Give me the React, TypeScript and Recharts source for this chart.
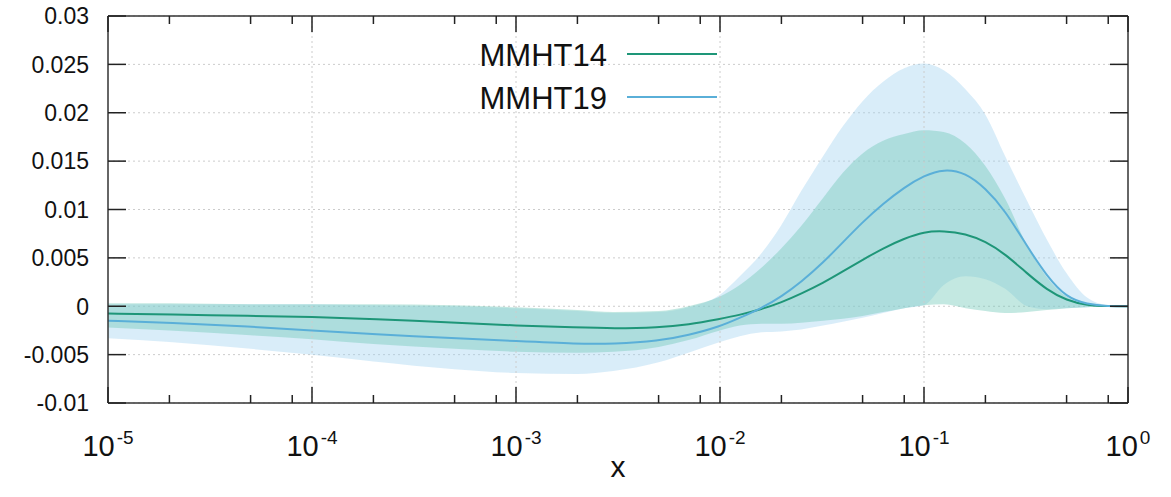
import {
  ComposedChart, Area, Line, XAxis, YAxis, CartesianGrid, ReferenceLine, Legend,
} from 'recharts'

const FONT = '"Liberation Sans", Arial, Helvetica, sans-serif'
const GREEN = '#1e9678'
const BLUE = '#5aafd8'

// x values (log scale)
const xs = [
  1e-5, 2e-5, 5e-5, 1e-4, 2e-4, 5e-4, 1e-3, 2e-3, 3e-3, 5e-3, 7e-3,
  0.01, 0.0125, 0.016, 0.02, 0.025, 0.032, 0.04, 0.05, 0.063, 0.08,
  0.1, 0.125, 0.16, 0.2, 0.25, 0.32, 0.4, 0.5, 0.63, 0.8, 1,
]

const mmht14 = [
  -0.00076, -0.00085, -0.001, -0.0011, -0.0013, -0.0017, -0.002, -0.0022, -0.0023, -0.0022, -0.0019,
  -0.0013, -0.0009, -0.0003, 0.0004, 0.0013, 0.0024, 0.0036, 0.0048, 0.006, 0.007,
  0.0077, 0.0078, 0.0075, 0.0067, 0.0054, 0.0034, 0.0017, 0.0006, 0.0001, 0, 0,
]
const mmht14Hi = [
  0.0003, 0.0003, 0.0002, 0.0002, 0.0002, 0.0001, -0.0001, -0.0004, -0.0006, -0.0005, 0.0,
  0.001, 0.0022, 0.004, 0.006, 0.0083, 0.0112, 0.0138, 0.0158, 0.0171, 0.0178,
  0.0182, 0.018, 0.0168, 0.0145, 0.0111, 0.0063, 0.003, 0.001, 0.0002, 0, 0,
]
const mmht14Lo = [
  -0.0022, -0.0025, -0.003, -0.0034, -0.0039, -0.0044, -0.0047, -0.0048, -0.0047, -0.0042, -0.0035,
  -0.0025, -0.002, -0.0018, -0.0018, -0.0017, -0.0015, -0.0013, -0.001, -0.0006, -0.0002,
  0.0001, 0.0002, -0.0002, -0.0005, -0.0007, -0.0006, -0.0004, -0.0002, -0.0001, 0, 0,
]

const mmht19 = [
  -0.0015, -0.0017, -0.0021, -0.0025, -0.0029, -0.0033, -0.0036, -0.0039, -0.0039, -0.0036, -0.003,
  -0.0021, -0.0012, -0.0002, 0.001, 0.0025, 0.0045, 0.0066, 0.0087, 0.0106, 0.0123,
  0.0135, 0.0142, 0.0138, 0.0122, 0.0099, 0.0062, 0.0031, 0.0009, 0.0002, 0, 0,
]
const mmht19Hi = [
  0.0002, 0.0002, 0.0002, 0.0002, 0.0001, 0.0, -0.0002, -0.0005, -0.0007, -0.0006, -0.0001,
  0.0012, 0.0031, 0.0055, 0.0084, 0.0119, 0.0155, 0.0186, 0.0212, 0.0232, 0.0246,
  0.0251, 0.0244, 0.0224, 0.0198, 0.0155, 0.0109, 0.0069, 0.0034, 0.0009, 0.0001, 0,
]
const mmht19Lo = [
  -0.0033, -0.0037, -0.0044, -0.005, -0.0057, -0.0065, -0.0069, -0.007, -0.0067, -0.0058, -0.0048,
  -0.0037, -0.0031, -0.0027, -0.0026, -0.0024, -0.002, -0.0016, -0.0012, -0.0007, -0.0002,
  0.0001, 0.0022, 0.0031, 0.0028, 0.0018, 0.0, -0.0003, -0.0002, -0.0001, 0, 0,
]

const yTicks = [-0.01, -0.005, 0, 0.005, 0.01, 0.015, 0.02, 0.025, 0.03]
const yTickLabels = ['-0.01', '-0.005', '0', '0.005', '0.01', '0.015', '0.02', '0.025', '0.03']
const decades = [1e-5, 1e-4, 1e-3, 1e-2, 1e-1, 1]
const minorSteps = [2, 5, 8]

const legendItems = [
  { name: 'MMHT14', color: GREEN },
  { name: 'MMHT19', color: BLUE },
]

const data = xs.map((x, i) => ({
  x,
  c14: mmht14[i],
  c19: mmht19[i],
  b14: [mmht14Lo[i], mmht14Hi[i]],
  b19: [mmht19Lo[i], mmht19Hi[i]],
}))

const xTicks: number[] = []
decades.forEach((d, i) => {
  xTicks.push(d)
  if (i < decades.length - 1) minorSteps.forEach((m) => xTicks.push(d * m))
})

const isMajor = (v: number) => {
  const lg = Math.log10(v)
  return Math.abs(lg - Math.round(lg)) < 1e-6
}

function BottomTick({ x, y, payload }: any) {
  const major = isMajor(payload.value)
  const exp = Math.round(Math.log10(payload.value))
  return (
    <g>
      <line x1={x} x2={x} y1={y} y2={y - (major ? 16 : 8)} stroke="#222" strokeWidth={1.5} />
      {major && (
        <text x={x} y={y + 53} textAnchor="middle" fontSize={29} fontFamily={FONT} fill="#111">
          10<tspan dx={2} dy={-12} fontSize={19}>{exp}</tspan>
        </text>
      )}
    </g>
  )
}

function TopTick({ x, y, payload }: any) {
  const major = isMajor(payload.value)
  return <line x1={x} x2={x} y1={y} y2={y + (major ? 16 : 8)} stroke="#222" strokeWidth={1.5} />
}

function LeftTick({ x, y, payload }: any) {
  const i = yTicks.indexOf(payload.value)
  return (
    <g>
      <line x1={x} x2={x + 18} y1={y} y2={y} stroke="#222" strokeWidth={1.5} />
      <text x={x - 19} y={y} dy="0.36em" textAnchor="end" fontSize={23} fontFamily={FONT} fill="#111">
        {yTickLabels[i]}
      </text>
    </g>
  )
}

function RightTick({ x, y }: any) {
  return <line x1={x} x2={x - 18} y1={y} y2={y} stroke="#222" strokeWidth={1.5} />
}

function LegendBox() {
  return (
    <svg width={300} height={90}>
      {legendItems.map((it, i) => (
        <g key={it.name}>
          <text x={167} y={36 + i * 43} textAnchor="end" fontSize={31} fontFamily={FONT} fill="#111">
            {it.name}
          </text>
          <line x1={187} x2={277} y1={24 + i * 43} y2={24 + i * 43} stroke={it.color} strokeWidth={2} />
        </g>
      ))}
    </svg>
  )
}

const axisLine = { stroke: '#333', strokeWidth: 1.5 }

export default function App() {
  return (
    <div style={{ position: 'absolute', left: 0, top: 0, background: '#fff' }}>
      <ComposedChart
        width={1171}
        height={497}
        data={data}
        margin={{ top: 15, right: 42, bottom: 0, left: 0 }}
      >
        <CartesianGrid vertical={false} stroke="#cccccc" strokeDasharray="2 3" />
        {decades.slice(1, -1).map((d) => (
          <ReferenceLine key={d} x={d} stroke="#cccccc" strokeDasharray="2 3" />
        ))}
        <XAxis
          dataKey="x"
          type="number"
          scale="log"
          domain={[1e-5, 1]}
          allowDataOverflow
          ticks={xTicks}
          interval={0}
          height={94}
          tickSize={0}
          tickMargin={0}
          tickLine={false}
          axisLine={axisLine}
          tick={<BottomTick />}
          label={{ value: 'x', position: 'insideBottom', offset: 20, fontSize: 30, fill: '#111', fontFamily: FONT }}
        />
        <XAxis
          xAxisId="top"
          orientation="top"
          dataKey="x"
          type="number"
          scale="log"
          domain={[1e-5, 1]}
          allowDataOverflow
          ticks={xTicks}
          interval={0}
          height={1}
          tickSize={0}
          tickMargin={0}
          tickLine={false}
          axisLine={axisLine}
          tick={<TopTick />}
        />
        <YAxis
          type="number"
          domain={[-0.01, 0.03]}
          ticks={yTicks}
          interval={0}
          allowDataOverflow
          width={108}
          tickSize={0}
          tickMargin={0}
          tickLine={false}
          axisLine={axisLine}
          tick={<LeftTick />}
        />
        <YAxis
          yAxisId="right"
          orientation="right"
          type="number"
          domain={[-0.01, 0.03]}
          ticks={yTicks}
          interval={0}
          allowDataOverflow
          width={1}
          tickSize={0}
          tickMargin={0}
          tickLine={false}
          axisLine={axisLine}
          tick={<RightTick />}
        />
        <Area
          dataKey="b19"
          type="monotone"
          stroke="none"
          fill="#9fd3f0"
          fillOpacity={0.4}
          isAnimationActive={false}
        />
        <Area
          dataKey="b14"
          type="monotone"
          stroke="none"
          fill="#70c8b8"
          fillOpacity={0.42}
          isAnimationActive={false}
        />
        <Line dataKey="c14" type="basis" stroke={GREEN} strokeWidth={2} dot={false} isAnimationActive={false} />
        <Line dataKey="c19" type="basis" stroke={BLUE} strokeWidth={2} dot={false} isAnimationActive={false} />
        <Legend
          layout="vertical"
          align="center"
          verticalAlign="middle"
          wrapperStyle={{ left: 440, top: 30, width: 300, height: 90 }}
          content={() => <LegendBox />}
        />
      </ComposedChart>
    </div>
  )
}
